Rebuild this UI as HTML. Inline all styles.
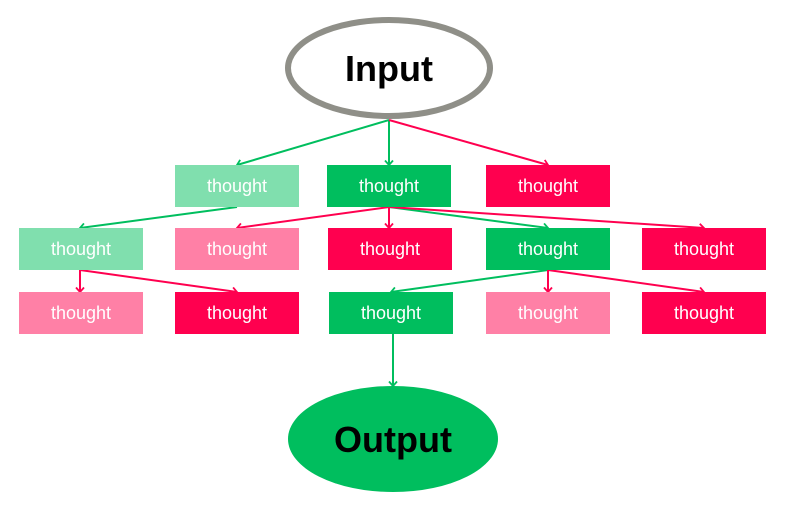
<!DOCTYPE html>
<html><head><meta charset="utf-8"><style>
html,body{margin:0;padding:0;background:#fff;}
svg{display:block;}
text{font-family:"Liberation Sans",sans-serif;}
.t{fill:#fff;font-size:18px;text-anchor:middle;}
</style></head><body>
<svg width="789" height="508" viewBox="0 0 789 508" xmlns="http://www.w3.org/2000/svg">
<defs>
<marker id="ag" markerWidth="10" markerHeight="10" refX="7" refY="5" orient="auto" markerUnits="userSpaceOnUse" viewBox="0 0 10 10"><path d="M2.5,1 L7,5 L2.5,9" fill="none" stroke="#00be5e" stroke-width="1.8"/></marker>
<marker id="ar" markerWidth="10" markerHeight="10" refX="7" refY="5" orient="auto" markerUnits="userSpaceOnUse" viewBox="0 0 10 10"><path d="M2.5,1 L7,5 L2.5,9" fill="none" stroke="#ff004f" stroke-width="1.8"/></marker>
</defs>
<g stroke-width="2" fill="none">
<line x1="389" y1="120" x2="237" y2="165" stroke="#00be5e" marker-end="url(#ag)"/>
<line x1="389" y1="120" x2="389" y2="165" stroke="#00be5e" marker-end="url(#ag)"/>
<line x1="389" y1="120" x2="548" y2="165" stroke="#ff004f" marker-end="url(#ar)"/>
<line x1="237" y1="207" x2="80" y2="228" stroke="#00be5e" marker-end="url(#ag)"/>
<line x1="389" y1="207" x2="237" y2="228" stroke="#ff004f" marker-end="url(#ar)"/>
<line x1="389" y1="207" x2="389" y2="228" stroke="#ff004f" marker-end="url(#ar)"/>
<line x1="389" y1="207" x2="548" y2="228" stroke="#00be5e" marker-end="url(#ag)"/>
<line x1="389" y1="207" x2="704" y2="228" stroke="#ff004f" marker-end="url(#ar)"/>
<line x1="80" y1="270" x2="80" y2="292" stroke="#ff004f" marker-end="url(#ar)"/>
<line x1="80" y1="270" x2="237" y2="292" stroke="#ff004f" marker-end="url(#ar)"/>
<line x1="548" y1="270" x2="391" y2="292" stroke="#00be5e" marker-end="url(#ag)"/>
<line x1="548" y1="270" x2="548" y2="292" stroke="#ff004f" marker-end="url(#ar)"/>
<line x1="548" y1="270" x2="704" y2="292" stroke="#ff004f" marker-end="url(#ar)"/>
<line x1="393" y1="334" x2="393" y2="386" stroke="#00be5e" marker-end="url(#ag)"/>
</g>
<ellipse cx="389" cy="68" rx="101" ry="48" fill="#fff" stroke="#8f8f88" stroke-width="6"/>
<text x="389" y="81" font-size="36" font-weight="bold" text-anchor="middle" fill="#000">Input</text>
<ellipse cx="393" cy="439" rx="105" ry="53" fill="#00be5e"/>
<text x="393" y="452" font-size="36" font-weight="bold" text-anchor="middle" fill="#000">Output</text>
<rect x="175" y="165" width="124" height="42" fill="#80dfae"/><text class="t" x="237" y="192">thought</text>
<rect x="327" y="165" width="124" height="42" fill="#00be5e"/><text class="t" x="389" y="192">thought</text>
<rect x="486" y="165" width="124" height="42" fill="#ff004f"/><text class="t" x="548" y="192">thought</text>
<rect x="19" y="228" width="124" height="42" fill="#80dfae"/><text class="t" x="81" y="255">thought</text>
<rect x="175" y="228" width="124" height="42" fill="#ff80a6"/><text class="t" x="237" y="255">thought</text>
<rect x="328" y="228" width="124" height="42" fill="#ff004f"/><text class="t" x="390" y="255">thought</text>
<rect x="486" y="228" width="124" height="42" fill="#00be5e"/><text class="t" x="548" y="255">thought</text>
<rect x="642" y="228" width="124" height="42" fill="#ff004f"/><text class="t" x="704" y="255">thought</text>
<rect x="19" y="292" width="124" height="42" fill="#ff80a6"/><text class="t" x="81" y="319">thought</text>
<rect x="175" y="292" width="124" height="42" fill="#ff004f"/><text class="t" x="237" y="319">thought</text>
<rect x="329" y="292" width="124" height="42" fill="#00be5e"/><text class="t" x="391" y="319">thought</text>
<rect x="486" y="292" width="124" height="42" fill="#ff80a6"/><text class="t" x="548" y="319">thought</text>
<rect x="642" y="292" width="124" height="42" fill="#ff004f"/><text class="t" x="704" y="319">thought</text>
</svg>
</body></html>
